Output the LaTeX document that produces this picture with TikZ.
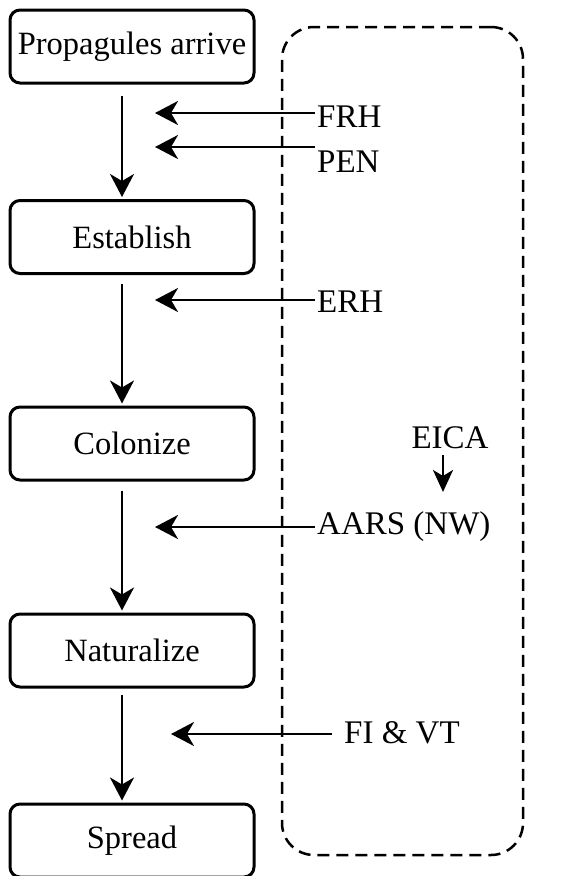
\documentclass[tikz,border=0pt]{standalone}
\usepackage{fontspec}
\setmainfont{Liberation Serif}
\usetikzlibrary{arrows.meta}
\begin{document}
\begin{tikzpicture}[x=1pt,y=-1pt,
  stagebox/.style={draw,line width=3pt,rounded corners=10pt,minimum width=244pt,minimum height=73pt,inner sep=0pt,font=\fontsize{32.5}{40}\selectfont},
  lbl/.style={inner sep=0pt,anchor=west,font=\fontsize{33}{40}\selectfont},
  flow/.style={line width=2.8pt,-{Stealth[length=23pt,width=24pt,inset=7pt]}},
  small/.style={line width=2.8pt,-{Stealth[length=22pt,width=20pt,inset=6pt]}},
  region/.style={draw,line width=2.5pt,dash pattern=on 12pt off 7pt,rounded corners=32pt,minimum width=241pt,minimum height=828pt,inner sep=0pt}]
\useasboundingbox (0,0) rectangle (561,876);
\node[region] (reg) at (402.5,441) {};
\node[stagebox] (p) at (132,46.5) {Propagules arrive};
\node[stagebox] (e) at (132,237) {Establish};
\node[stagebox] (c) at (132,443.5) {Colonize};
\node[stagebox] (n) at (132,650.5) {Naturalize};
\node[stagebox] (s) at (132,840.5) {Spread};
\draw[flow,shorten <=11pt,shorten >=2pt] (p.south -| 122,0) -- (e.north -| 122,0);
\draw[flow,shorten <=9pt,shorten >=2pt] (e.south -| 122,0) -- (c.north -| 122,0);
\draw[flow,shorten <=9pt,shorten >=2pt] (c.south -| 122,0) -- (n.north -| 122,0);
\draw[flow,shorten <=6pt,shorten >=2pt] (n.south -| 122,0) -- (s.north -| 122,0);
\node[lbl] (frh) at (317,117) {FRH};
\node[lbl] (pen) at (317,162) {PEN};
\node[lbl] (erh) at (317,302) {ERH};
\node[lbl] (aars) at (317,527) {AARS (NW)};
\node[lbl] (fivt) at (344,733) {FI \& VT};
\node[inner sep=0pt,font=\fontsize{33}{40}\selectfont] (eica) at (450,438) {EICA};
\coordinate (t1) at (155,113);
\coordinate (t2) at (155,147);
\coordinate (t3) at (155,300);
\coordinate (t4) at (155,527);
\coordinate (t5) at (171,734);
\coordinate (eicaend) at (443,492);
\draw[flow] (frh.west |- t1) ++(-2,0) -- (t1);
\draw[flow] (pen.west |- t2) ++(-2,0) -- (t2);
\draw[flow] (erh.west |- t3) ++(-2,0) -- (t3);
\draw[flow] (aars.west |- t4) ++(-2,0) -- (t4);
\draw[flow] (fivt.west |- t5) ++(-12,0) -- (t5);
\draw[small] (eica.south -| eicaend) ++(0,6) -- (eicaend);
\end{tikzpicture}
\end{document}
